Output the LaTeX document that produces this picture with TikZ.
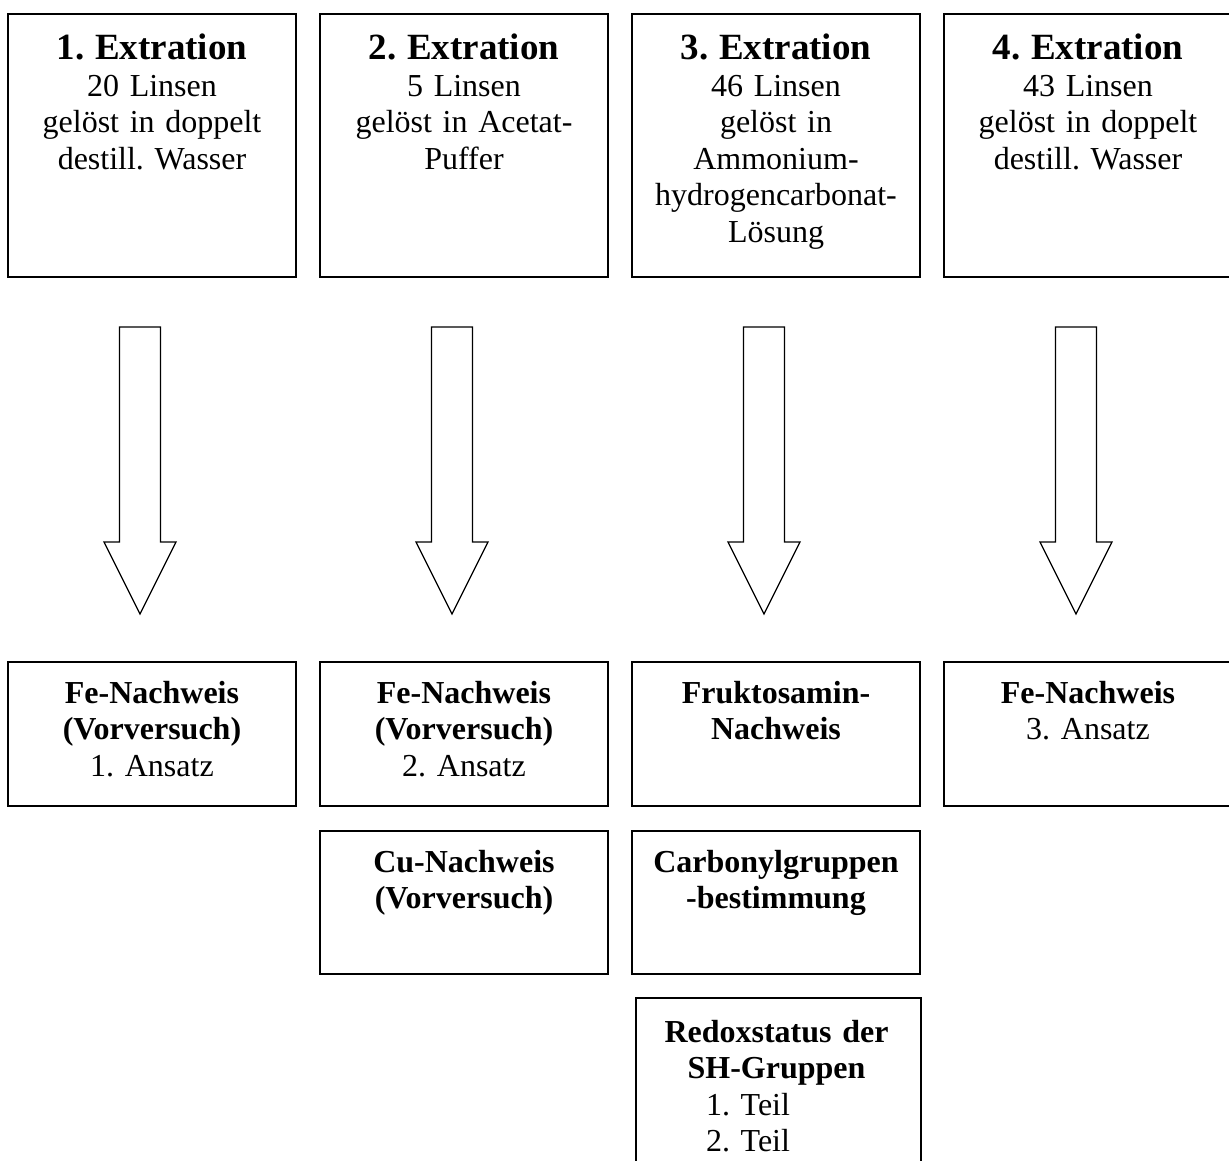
\documentclass[tikz,border=0pt]{standalone}
\usepackage{fontspec}
\setmainfont{Liberation Serif}
\frenchspacing
\begin{document}
\begin{tikzpicture}[x=1pt,y=-1pt,
  box/.style={draw, line width=1.5pt, rectangle, inner sep=0pt},
  txt/.style={anchor=base, text width=284pt, align=center, inner sep=0pt,
    font=\fontsize{32}{36.5}\selectfont\frenchspacing},
  blockarrow/.style={draw, line width=1.3pt, line join=miter, fill=white}]
\useasboundingbox (0,0) rectangle (1229,1161);
\clip (0,0) rectangle (1229,1161);
% top boxes
\foreach \i/\x in {1/152,2/464,3/776,4/1088}{
  \node[box, minimum width=288pt, minimum height=263pt] (e\i) at (\x,145.5) {};
}
\node[txt] (t1) at (152,60) {{\fontsize{37}{36.5}\selectfont\bfseries 1. Extration}\\20 Linsen\\gelöst in doppelt\\destill. Wasser};
\node[txt] (t2) at (464,60) {{\fontsize{37}{36.5}\selectfont\bfseries 2. Extration}\\5 Linsen\\gelöst in Acetat-\\Puffer};
\node[txt] (t3) at (776,60) {{\fontsize{37}{36.5}\selectfont\bfseries 3. Extration}\\46 Linsen\\gelöst in\\Ammonium-\\hydrogencarbonat-\\Lösung};
\node[txt] (t4) at (1088,60) {{\fontsize{37}{36.5}\selectfont\bfseries 4. Extration}\\43 Linsen\\gelöst in doppelt\\destill. Wasser};
% block arrows
\foreach \i/\x in {1/140,2/452,3/764,4/1076}{
  \coordinate (a\i) at (\x,327);
  \draw[blockarrow] (a\i) ++(-20.5,0) -- ++(0,215) -- ++(-15.5,0) -- ++(36,72)
    -- ++(36,-72) -- ++(-15.5,0) -- ++(0,-215) -- cycle;
}
% result boxes row 1
\foreach \i/\x in {1/152,2/464,3/776,4/1088}{
  \node[box, minimum width=288pt, minimum height=144pt] (r\i) at (\x,734) {};
}
\node[txt] (u1) at (152,703) {\textbf{Fe-Nachweis}\\\textbf{(Vorversuch)}\\1. Ansatz};
\node[txt] (u2) at (464,703) {\textbf{Fe-Nachweis}\\\textbf{(Vorversuch)}\\2. Ansatz};
\node[txt] (u3) at (776,703) {\textbf{Fruktosamin-}\\\textbf{Nachweis}};
\node[txt] (u4) at (1088,703) {\textbf{Fe-Nachweis}\\3. Ansatz};
% row 2
\node[box, minimum width=288pt, minimum height=143pt] (s2) at (464,902.5) {};
\node[box, minimum width=288pt, minimum height=143pt] (s3) at (776,902.5) {};
\node[txt] (v2) at (464,872) {\textbf{Cu-Nachweis}\\\textbf{(Vorversuch)}};
\node[txt] (v3) at (776,872) {\textbf{Carbonylgruppen}\\\textbf{-bestimmung}};
% row 3
\node[box, minimum width=285pt, minimum height=240pt] (w3) at (778.5,1118) {};
\node[txt] (x3) at (776.5,1042) {\textbf{Redoxstatus der}\\\textbf{SH-Gruppen}\\\mbox{1. Teil\hspace{57pt}}\\\mbox{2. Teil\hspace{57pt}}};
\end{tikzpicture}
\end{document}
